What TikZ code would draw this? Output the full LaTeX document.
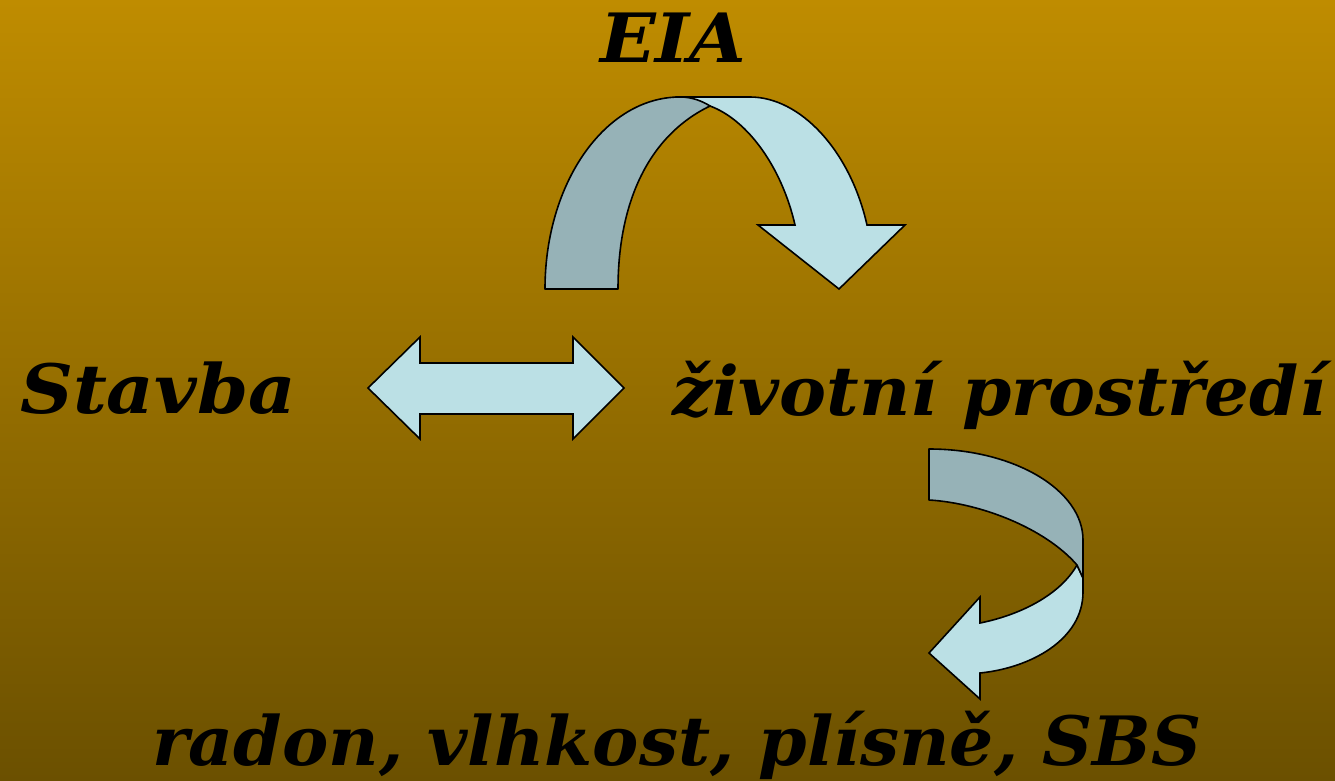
\documentclass[tikz,border=0pt]{standalone}
\usepackage{fontspec}
\setmainfont{DejaVu Serif}
\definecolor{bgtop}{RGB}{191,140,0}
\definecolor{bgbot}{RGB}{107,80,0}
\definecolor{darkband}{RGB}{150,178,183}
\definecolor{lightband}{RGB}{187,224,229}
\tikzset{
  lbl/.style={anchor=base west, inner sep=0pt, outer sep=0pt, font=\fontsize{68}{70}\selectfont\bfseries\itshape, text=black},
  darkpart/.style={fill=darkband, draw=black, line width=1.6pt, line join=round},
  lightpart/.style={fill=lightband, draw=black, line width=1.6pt, line join=miter},
}
\begin{document}
\begin{tikzpicture}[x=1pt,y=-1pt]
\useasboundingbox (0,0) rectangle (1335,781);
\shade[top color=bgtop, bottom color=bgbot] (0,0) rectangle (1335,781);

% labels
\node[lbl] (eia) at (600,63) {\scalebox{1.075}[1]{EIA}};
\node[lbl] (stavba) at (20,413) {\scalebox{1.08}[1]{Stavba}};
\node[lbl] (zp) at (672,415) {\scalebox{1.037}[1]{životní prostředí}};
\node[lbl] (bottom) at (152,765) {\scalebox{1.022}[1]{radon, vlhkost, plísně, SBS}};

% double arrow
\draw[lightpart] (368,388) -- (420,337) -- (420,363) -- (573,363) -- (573,337)
  -- (624,388) -- (573,439) -- (573,414) -- (420,414) -- (420,439) -- cycle;

% top curved arrow: light part first
\draw[lightpart] (678,97) -- (750,97) .. controls (800,97) and (850,150) .. (867,225)
  -- (905,225) -- (839,289) -- (758,225) -- (795,225)
  .. controls (782,168) and (748,120) .. (710,106) -- (680,98) -- cycle;
% dark part on top
\draw[darkpart] (545,289) .. controls (545,183) and (605,97) .. (680,97)
  .. controls (692,97) and (702,101) .. (710,106)
  .. controls (650,135) and (618,200) .. (618,289) -- cycle;

% lower curved arrow: light part first
\draw[lightpart] (1077,565) -- (1083,578) -- (1083,592)
  .. controls (1083,640) and (1030,668) .. (980,673)
  -- (980,699) -- (929,653) -- (980,597) -- (980,623)
  .. controls (1020,615) and (1060,595) .. (1077,565) -- cycle;
\draw[darkpart] (929,449) .. controls (1014,449) and (1083,490) .. (1083,540)
  -- (1083,578) -- (1077,565)
  .. controls (1045,528) and (980,503) .. (929,500) -- cycle;
\end{tikzpicture}
\end{document}
